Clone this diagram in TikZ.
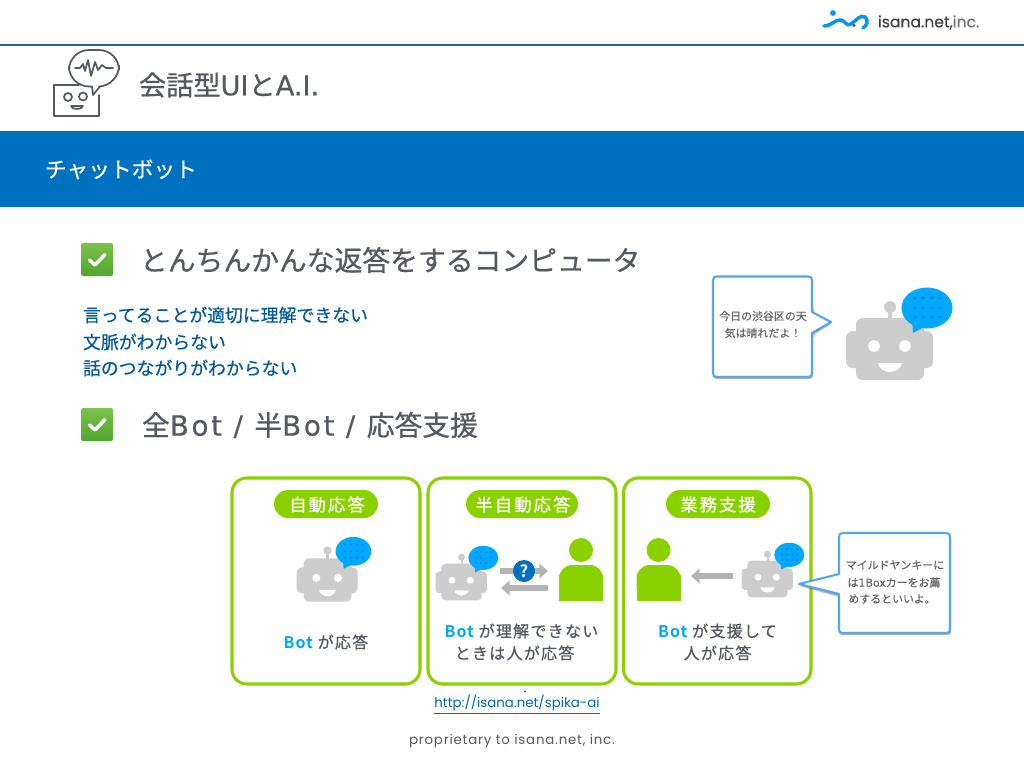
\documentclass[tikz,border=0pt]{standalone}
\usepackage{fontspec}
\usetikzlibrary{arrows.meta,calc}
\setmainfont{Noto Sans CJK JP}
\newfontfamily\jpmed[FakeBold=0.5]{Noto Sans CJK JP}
\newfontfamily\jpcall[FakeBold=0.3]{Noto Sans CJK JP}
\newfontfamily\jphead[FakeBold=0.6]{Noto Sans CJK JP}
\newfontfamily\jpsp[LetterSpace=8,FakeBold=0.6]{Noto Sans CJK JP}
\newfontfamily\jpspw[LetterSpace=12,FakeBold=0.6]{Noto Sans CJK JP}
\newfontfamily\jpbold[LetterSpace=6]{Noto Sans CJK JP Bold}
\newfontfamily\latwide[FakeBold=0.5]{DejaVu Sans}
\newfontfamily\latcall[FakeBold=0.2]{DejaVu Sans}
\newfontfamily\headlat[FakeBold=0.5,LetterSpace=9.5]{DejaVu Sans}
\newfontfamily\latinf{Poppins}
\newfontfamily\latfoot[LetterSpace=6]{Poppins}
\newfontfamily\logof[FakeBold=0.4]{Poppins}
\definecolor{headline}{HTML}{2F5BAA}
\definecolor{band}{HTML}{0070C0}
\definecolor{titlegray}{HTML}{555A60}
\definecolor{deepblue}{HTML}{005A9E}
\definecolor{leaf}{HTML}{8AD100}
\definecolor{robotgray}{HTML}{CDCDCD}
\definecolor{sky}{HTML}{00A8FF}
\definecolor{skydot}{HTML}{0878C0}
\definecolor{calloutblue}{HTML}{55A5F5}
\definecolor{arrowgray}{HTML}{B4B4B4}
\definecolor{checktop}{HTML}{7CC24A}
\definecolor{checkbot}{HTML}{4FA62E}
\definecolor{callgray}{HTML}{666666}
\tikzset{
  txt/.style={inner sep=0pt,outer sep=0pt,anchor=center},
  headtext/.style={txt,text=titlegray,font=\jphead\fontsize{20.85}{24}\selectfont},
  bluetext/.style={txt,anchor=west,text=deepblue,font=\jpmed\fontsize{13.4}{16}\selectfont},
  calltext/.style={txt,text=callgray,font=\jpcall\fontsize{8.2}{10}\selectfont},
  pilltext/.style={txt,text=white,font=\jpspw\fontsize{13}{16}\selectfont},
  paneltext/.style={txt,text=titlegray,font=\jpsp\fontsize{12}{15}\selectfont},
  panelbox/.style={draw=leaf,line width=2.3pt,rounded corners=11pt,fill=white},
  pillbox/.style={fill=leaf,rounded corners=10.5pt},
  callbox/.style={draw=calloutblue,fill=white,line width=1.6pt,line join=round},
  callshadow/.style={fill=black,opacity=.28,line join=round},
  grayarrow/.style={draw=arrowgray,line width=3.9pt,-{Triangle[length=6.5pt,width=11pt]}},
}
\newcommand{\mybot}[3]{%
  \begin{scope}[shift={(#1,#2)},scale=#3]
    \fill[robotgray,rounded corners=#3*5pt] (-34,-31) rectangle (34,31);
    \fill[robotgray,rounded corners=#3*5pt] (-44,-18) rectangle (43,19);
    \fill[robotgray] (-1.7,-42) rectangle (1.7,-28);
    \fill[robotgray] (0,-42) circle (6);
    \fill[white] (-16,-3) circle (5.8);
    \fill[white] (15,-3) circle (5.8);
    \fill[white] (-12,14) -- (12,14) .. controls (11,20) and (5,23) .. (0,23) .. controls (-5,23) and (-11,20) .. (-12,14) -- cycle;
    \fill[sky] (37,-41) ellipse (25.5 and 20.5);
    \fill[sky] (23,-16) -- (22,-30) -- (34,-22) -- cycle;
    \foreach \dx in {25,33,42,50}{\foreach \dy in {-51,-41,-32}{\fill[skydot] (\dx,\dy) circle (1.5);}}
  \end{scope}}
\newcommand{\myperson}[2]{%
  \fill[leaf] (#1,550) circle (12);
  \fill[leaf,rounded corners=10pt] (#1-22,590) -- (#1-22,565) -- (#1+22,565) -- (#1+22,590);
  \fill[leaf] (#1-22,575) rectangle (#1+22,601);}
\newcommand{\mycheck}[1]{%
  \shade[top color=checktop,bottom color=checkbot,rounded corners=1.5pt] (81,#1) rectangle (113,#1+33);
  \draw[white,line width=2.6pt,line cap=round,line join=round] (89.5,#1+17) -- (95,#1+22) -- (105,#1+11.5);}
\begin{document}
\begin{tikzpicture}[x=0.75pt,y=-0.75pt]
\useasboundingbox (0,0) rectangle (1024,768);
\fill[white] (0,0) rectangle (1024,768);
% header
\draw[headline,line width=1.6pt] (0,45) -- (1024,45);
\fill[band] (0,131) rectangle (1024,207);
% logo
\fill[sky!80!band] (833,13) circle (2.9);
\draw[sky!70!band,line width=2.6pt,line cap=round] (824,26) .. controls (832,26) and (835,19) .. (841,20) .. controls (846,21) and (846,27) .. (851,24) .. controls (856,21) and (860,14) .. (865,17) .. controls (869,20) and (867,26) .. (863,28);
\fill[black!75] (854,25.5) circle (1.6);
\node[txt,anchor=west,text=black!75] (logotext) at (878,22.5) {\logof\fontsize{11.7}{14}\selectfont isana.net,{\color{black!55} inc.}};
% icon
\begin{scope}[draw=titlegray,line width=1.3pt,line join=round,line cap=round]
  \draw[rounded corners=15pt] (92,86.5) -- (69,86.5) -- (69,50) -- (119,50) -- (119,85.5) -- (100,86.5);
  \draw (92,86.5) -- (93,95) -- (100,86.5);
  \draw (79,85) -- (54,85) -- (54,116) -- (99,116) -- (99,95);
  \draw (68,97) circle (4);
  \draw (83,96.5) circle (4);
  \draw (71,106) -- (83,106) .. controls (82,110) and (72,110) .. (71,106) -- cycle;
  \draw (75,68) -- (80,68) -- (83,64) -- (85,71) -- (88,60) -- (91,76) -- (95,62) -- (98,70) -- (102,65) -- (106,68) -- (113,68);
\end{scope}
\node[txt,anchor=west,text=titlegray,font=\jphead\fontsize{20.4}{24}\selectfont] (title) at (139,85) {会話型{\latwide UI}と{\latwide A.I.}};
\node[txt,anchor=west,text=white,font=\jpmed\fontsize{16.3}{20}\selectfont] (bandtext) at (45,169.5) {チャットボット};
% bullets
\mycheck{243}
\node[headtext,anchor=west] (head1) at (140,260) {とんちんかんな返答をするコンピュータ};
\node[bluetext] (blue1) at (83,315) {言ってることが適切に理解できない};
\node[bluetext] (blue2) at (83,342) {文脈がわからない};
\node[bluetext] (blue3) at (83,368) {話のつながりがわからない};
\mycheck{408}
\node[headtext,anchor=west] (head2) at (142,425) {全{\headlat Bot / }半{\headlat Bot / }応答支援};
% top callout
\fill[callshadow,rounded corners=2.5pt] (713,279) -- (813,279) -- (813,312) -- (833,323) -- (813,335) -- (813,379) -- (713,379) -- cycle;
\draw[callbox] (717,276.5) -- (808,276.5) .. controls (811,276.5) and (812,277.5) .. (812,280.5) -- (812,312) -- (831,322) -- (812,333) -- (812,373) .. controls (812,376) and (811,377) .. (808,377) -- (717,377) .. controls (714,377) and (713,376) .. (713,373) -- (713,280.5) .. controls (713,277.5) and (714,276.5) .. (717,276.5) -- cycle;
\node[calltext] (calla1) at (763,316) {今日の渋谷区の天};
\node[calltext] (calla2) at (763,333) {気は晴れだよ！};
\mybot{890}{349}{1}
% panels
\draw[panelbox] (232,478) rectangle (420,684);
\draw[panelbox] (428,478) rectangle (616,684);
\draw[panelbox] (623.5,478) rectangle (811,684);
\fill[pillbox] (274,490) rectangle (378,518);
\fill[pillbox] (466,490) rectangle (578,518);
\fill[pillbox] (666,490) rectangle (770,518);
\node[pilltext] (pill1) at (327,504.5) {自動応答};
\node[pilltext] (pill2) at (523,504.5) {半自動応答};
\node[pilltext] (pill3) at (718,504.5) {業務支援};
\mybot{327.5}{580}{0.7}
\mybot{461.5}{582}{0.59}
\mybot{767.5}{579}{0.59}
\myperson{581}{0}
\myperson{658.5}{0}
% arrows
\coordinate (a1s) at (500,571); \coordinate (a1e) at (548,571);
\coordinate (a2s) at (548,588); \coordinate (a2e) at (501,588);
\coordinate (a3s) at (733,576); \coordinate (a3e) at (691,576);
\draw[grayarrow] (a1s) -- (a1e);
\draw[grayarrow] (a2s) -- (a2e);
\draw[grayarrow] (a3s) -- (a3e);
\node[circle,fill=band,minimum size=16.5pt,inner sep=0pt,text=white,font=\jpbold\fontsize{12.5}{14}\selectfont] (qmark) at (524,571) {?};
% panel labels
\newcommand{\botword}{{\jpbold\color{sky}Bot}}
\node[paneltext] (lab1) at (326,642) {\botword{} が応答};
\node[paneltext] (lab2a) at (521.5,631) {\botword{} が理解できない};
\node[paneltext] (lab2b) at (514.5,653) {ときは人が応答};
\node[paneltext] (lab3a) at (717.5,631) {\botword{} が支援して};
\node[paneltext] (lab3b) at (717.5,653) {人が応答};
% second callout
\fill[callshadow] (800,586) -- (839,577) -- (839,536) .. controls (839,534) and (840,535) .. (842,535) -- (949,535) .. controls (951,535) and (951,536) .. (951,538) -- (951,632) .. controls (951,634) and (950,635) .. (948,635) -- (842,635) .. controls (840,635) and (839,634) .. (839,632) -- (839,597) -- cycle;
\draw[callbox] (799,584) -- (839,574) -- (839,537) .. controls (839,534) and (840,533) .. (843,533) -- (946,533) .. controls (949,533) and (950,534) .. (950,537) -- (950,629) .. controls (950,632) and (949,633) .. (946,633) -- (843,633) .. controls (840,633) and (839,632) .. (839,629) -- (839,594) -- cycle;
\node[calltext] (callb1) at (895,565) {マイルドヤンキーに};
\node[calltext] (callb2) at (894,582.5) {は{\latcall 1Box}カーをお薦};
\node[calltext] (callb3) at (892,599) {めするといいよ。};
% footer
\fill[band] (525,691.5) circle (1.2);
\node[txt,text=deepblue!80!sky,font=\fontsize{10}{13}\selectfont] (url) at (517,704.5) {\underline{\latinf http://isana.net/spika-ai}};
\node[txt,text=titlegray,font=\fontsize{10}{13}\selectfont] (foot) at (512,741.5) {\latfoot proprietary to isana.net, inc.};
\end{tikzpicture}
\end{document}
